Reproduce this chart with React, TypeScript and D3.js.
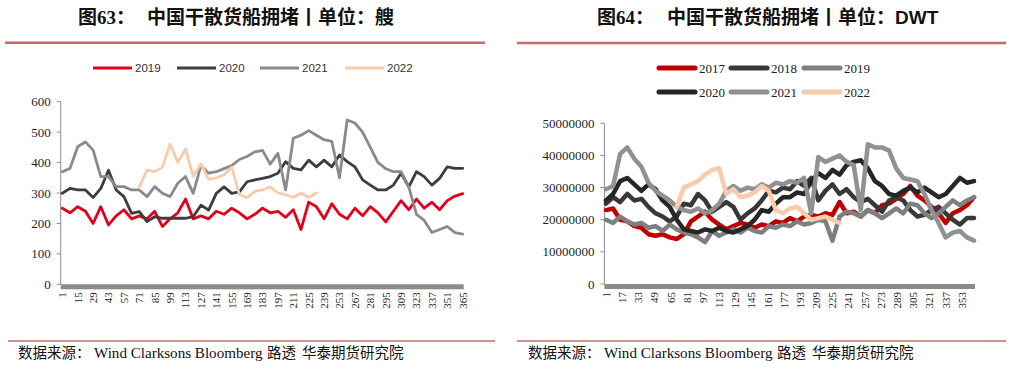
import React from 'react';
import * as d3 from 'd3';

// page size
const width = 1016;
const height = 372;

// one sample every 7 days (day 1 ... day 365)
const days = d3.range(1, 366, 7);

// left chart: 中国干散货船拥堵（艘）
const leftXTicks = [1, 15, 29, 43, 57, 71, 85, 99, 113, 127, 141, 155, 169, 183, 197, 211, 225, 239, 253, 267, 281, 295, 309, 323, 337, 351, 365];
const leftYTicks = [0, 100, 200, 300, 400, 500, 600];
const ships2019 = [250, 235, 255, 240, 200, 255, 195, 225, 245, 215, 225, 215, 240, 190, 215, 235, 280, 215, 225, 215, 240, 230, 250, 235, 215, 230, 250, 235, 240, 220, 245, 180, 270, 255, 215, 265, 230, 215, 250, 225, 255, 235, 205, 240, 275, 245, 280, 250, 270, 245, 275, 290, 298];
const ships2020 = [299, 315, 310, 310, 285, 315, 375, 310, 288, 233, 239, 206, 222, 217, 217, 217, 217, 222, 260, 244, 299, 320, 299, 304, 337, 343, 348, 354, 365, 403, 381, 376, 408, 386, 408, 386, 425, 403, 386, 343, 326, 310, 310, 326, 365, 320, 370, 354, 326, 348, 386, 381, 381];
const ships2021 = [370, 381, 452, 468, 441, 354, 354, 321, 321, 310, 310, 288, 321, 299, 288, 332, 354, 299, 390, 365, 370, 380, 390, 410, 420, 435, 440, 395, 430, 310, 480, 490, 505, 490, 475, 470, 350, 540, 530, 500, 450, 400, 380, 370, 370, 320, 230, 210, 170, 180, 190, 170, 165];
const ships2022 = [null, null, null, null, null, null, null, null, null, null, 320, 375, 370, 385, 460, 400, 445, 355, 395, 345, 350, 360, 385, 295, 285, 305, 310, 320, 300, 295, 285, 300, 285, 300, null, null, null, null, null, null, null, null, null, null, null, null, null, null, null, null, null, null, null];

// right chart: 中国干散货船拥堵（DWT，百万）
const rightXTicks = [1, 17, 33, 49, 65, 81, 97, 113, 129, 145, 161, 177, 193, 209, 225, 241, 257, 273, 289, 305, 321, 337, 353];
const rightYTicks = [0, 10, 20, 30, 40, 50];
const dwt2017 = [23, 23.5, 20, 19.5, 18, 17.5, 15.5, 15, 15.5, 14.5, 14, 15.5, 19.5, 21, 22.5, 20, 18.5, 17, 18, 19, 18.5, 17.5, 18.5, 18, 19.5, 19, 20.5, 19.5, 21, 21.5, 21, 22, 21.5, 25.5, 22, 22.5, 21, 23, 22, 24.5, 25, 26.5, 28, 30.5, 27.5, 26, 24, 22, 19, 22, 23, 24.5, 27];
const dwt2018 = [25, 27, 25.5, 28, 26, 26.5, 24, 22, 21, 19.5, 21, 25, 24.5, 28, 26, 22.5, 24, 25.5, 24, 20, 22, 23.5, 26, 29, 28.5, 30, 29.5, 32, 30.5, 33, 26, 29, 31, 28, 29.5, 27, 25.5, 26.5, 24.5, 22.5, 26, 27, 26, 23, 21, 21.5, 23, 24, 22, 20, 18.5, 20.5, 20.5];
const dwt2019 = [20, 19, 21, 19.5, 18.5, 19, 17.5, 18, 16.5, 18.5, 17, 16, 15.5, 14.5, 13, 16.5, 15, 16, 17, 16, 17.5, 16.5, 16, 18, 17.5, 18.5, 18, 19.5, 18.5, 19, 20, 19.5, 13.5, 21, 22.5, 22, 21, 23, 22, 20.5, 22, 23.5, 22, 25, 24.5, 22, 20.5, 22, 24, 26, 24.5, 26, 27];
const dwt2020 = [26, 28, 32, 33, 31, 29, 31, 29.5, 26, 24, 20, 17, 16.5, 16, 17, 16.5, 17.5, 16.5, 16, 17, 18, 20, 23, 22.5, 25, 27, 27, 28.5, 28, 32, 34.5, 33, 35.5, 34, 37, 38, 38.5, 36, 32, 30.5, 28, 27.5, 29, 30, 28.5, 30, 28.5, 27, 28, 30.5, 33, 31.5, 32];
const dwt2021 = [29.5, 30.5, 40.5, 42.5, 39, 36.5, 31.5, 29, 27.5, 26, 24, 23, 22.5, 23.5, 22, 23, 25, 29, 30.5, 29, 30, 29.5, 31, 30, 31.5, 31, 32, 31.5, 33, 22, 39.5, 38, 39, 40, 38, 37, 23, 43.5, 42.5, 42.5, 41.5, 36, 33, 32.5, 32, 28, 23, 19, 14.5, 16, 16.5, 14.5, 13.5];
const dwt2022 = [null, null, null, null, null, null, null, null, null, null, 24, 30, 31, 32, 34, 35.5, 36, 28, 29.5, 27, 27.5, 28.5, 30.5, 29, 23, 22, 23.5, 24, 22, 20, 20.5, 21, 20, 19, null, null, null, null, null, null, null, null, null, null, null, null, null, null, null, null, null, null, null];

const serif = "'Liberation Serif', 'Times New Roman', serif";
const sans = "'Liberation Sans', Arial, sans-serif";
const cjk = "'Noto Sans CJK SC', sans-serif";
const ruleColor = '#c8686a';

type Series = { name: string; color: string; values: (number | null)[] };

const leftSeries: Series[] = [
  { name: '2019', color: '#e3001b', values: ships2019 },
  { name: '2020', color: '#3d3d3d', values: ships2020 },
  { name: '2021', color: '#8a8a8a', values: ships2021 },
  { name: '2022', color: '#f8cbad', values: ships2022 },
];
const rightSeries: Series[] = [
  { name: '2017', color: '#c00000', values: dwt2017 },
  { name: '2018', color: '#383838', values: dwt2018 },
  { name: '2019', color: '#7f7f7f', values: dwt2019 },
  { name: '2020', color: '#262626', values: dwt2020 },
  { name: '2021', color: '#919191', values: dwt2021 },
  { name: '2022', color: '#f8cbad', values: dwt2022 },
];

const Panel = ({ x, y, series, xTicks, yTicks, yFmt, lineW }: any) => {
  const line = d3.line<number | null>()
    .defined(d => d != null)
    .x((d, i) => x(days[i]))
    .y(d => y(d as number));
  const x0 = x.range()[0] - 1.6;
  const x1 = x.range()[1] + 1;
  const [yb, yt] = y.range();
  return (
    <g>
      {/* y axis */}
      <line x1={x0} x2={x0} y1={yt} y2={yb} stroke="#8c8c8c" strokeWidth={1} />
      {yTicks.map(t => (
        <g key={t}>
          <line x1={x0 - 4} x2={x0} y1={y(t)} y2={y(t)} stroke="#8c8c8c" />
          <text x={x0 - 10} y={y(t)} dy="0.35em" textAnchor="end" fontFamily={serif} fontSize={13} fill="#1e1e2a">{yFmt(t)}</text>
        </g>
      ))}
      {/* series */}
      {series.map(s => (
        <path key={s.name} d={line(s.values) || ''} fill="none" stroke={s.color} strokeWidth={lineW} strokeLinejoin="round" strokeLinecap="round" />
      ))}
      {/* x axis (thick bar) */}
      <rect x={x0} y={yb} width={x1 - x0} height={5} fill="#8a8a8a" />
      {xTicks.map(t => (
        <text key={t} transform={`translate(${x(t)},${yb + 8}) rotate(-90)`} dy="0.35em" textAnchor="end" fontFamily={serif} fontSize={11} fill="#222">{t}</text>
      ))}
    </g>
  );
};

const Footer = ({ dx }: { dx: number }) => (
  <text y={358} fontSize={14.5} fill="#111">
    <tspan x={18 + dx} fontFamily={cjk}>数据来源：</tspan>
    <tspan x={94 + dx} fontFamily={serif} fontSize={15.1}>Wind Clarksons Bloomberg</tspan>
    <tspan x={267 + dx} fontFamily={cjk}>路透</tspan>
    <tspan x={302 + dx} fontFamily={cjk}>华泰期货研究院</tspan>
  </text>
);

const App = () => {
  const leftX = d3.scaleLinear().domain([1, 365]).range([62.3, 462.7]);
  const leftY = d3.scaleLinear().domain([0, 600]).range([284.3, 101.7]);
  const rightX = d3.scaleLinear().domain([1, 365]).range([606, 974]);
  const rightY = d3.scaleLinear().domain([0, 50]).range([284, 123.3]);

  return (
    <svg width={width} height={height} style={{ position: 'absolute', left: 0, top: 0, background: '#fff' }}>
      {/* titles */}
      <text y={24} fontSize={19} fontWeight="bold" fill="#111">
        <tspan x={78} fontFamily={cjk}>图</tspan>
        <tspan fontFamily={serif}>63</tspan>
        <tspan fontFamily={cjk}>：</tspan>
        <tspan x={147} fontFamily={cjk}>中国干散货船拥堵丨单位：艘</tspan>
      </text>
      <text y={24} fontSize={19} fontWeight="bold" fill="#111">
        <tspan x={597} fontFamily={cjk}>图</tspan>
        <tspan fontFamily={serif}>64</tspan>
        <tspan fontFamily={cjk}>：</tspan>
        <tspan x={667} fontFamily={cjk}>中国干散货船拥堵丨单位：</tspan>
        <tspan fontFamily={sans}>DWT</tspan>
      </text>
      <line x1={5} x2={485} y1={42.7} y2={42.7} stroke={ruleColor} strokeWidth={2.5} />
      <line x1={517} x2={1006} y1={43} y2={43} stroke={ruleColor} strokeWidth={2.5} />

      {/* legends */}
      {leftSeries.map((s, i) => {
        const lx = [93, 177, 260, 345][i];
        return (
          <g key={s.name}>
            <line x1={lx} x2={lx + 39} y1={68} y2={68} stroke={s.color} strokeWidth={3} />
            <text x={lx + 42} y={68} dy="0.35em" fontFamily={sans} fontSize={11.5} fill="#333">{s.name}</text>
          </g>
        );
      })}
      {rightSeries.map((s, i) => {
        const lx = [657, 729, 802][i % 3];
        const ly = i < 3 ? 68 : 92;
        return (
          <g key={s.name}>
            <line x1={lx + 2} x2={lx + 38} y1={ly} y2={ly} stroke={s.color} strokeWidth={5} strokeLinecap="round" />
            <text x={lx + 42} y={ly} dy="0.35em" fontFamily={serif} fontSize={13} fill="#222">{s.name}</text>
          </g>
        );
      })}

      <Panel x={leftX} y={leftY} series={leftSeries} xTicks={leftXTicks} yTicks={leftYTicks} yFmt={(v: number) => String(v)} lineW={2.8} />
      <Panel x={rightX} y={rightY} series={rightSeries} xTicks={rightXTicks} yTicks={rightYTicks} yFmt={(v: number) => d3.format('d')(v * 1e6)} lineW={4.5} />

      {/* footers */}
      <line x1={8} x2={495} y1={341} y2={341} stroke={ruleColor} strokeWidth={1.5} />
      <line x1={517} x2={1006} y1={341} y2={341} stroke={ruleColor} strokeWidth={1.5} />
      <Footer dx={0} />
      <Footer dx={510} />
    </svg>
  );
};

export default App;
